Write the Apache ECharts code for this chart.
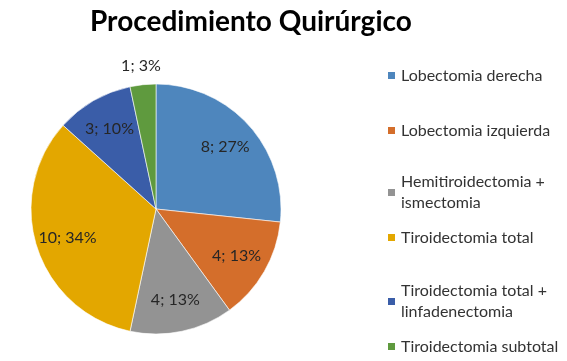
<!DOCTYPE html>
<html>
<head>
<meta charset="utf-8">
<script src="https://cdn.jsdelivr.net/npm/echarts@6/dist/echarts.min.js"></script>
<style>
  html, body { margin: 0; padding: 0; background: #fff; }
  #chart { width: 567px; height: 361px; }
</style>
</head>
<body>
<div id="chart"></div>
<script>
const categories = [
  'Lobectomia derecha',
  'Lobectomia izquierda',
  'Hemitiroidectomia + ismectomia',
  'Tiroidectomia total',
  'Tiroidectomia total + linfadenectomia',
  'Tiroidectomia subtotal',
]
const counts = [8, 4, 4, 10, 3, 1]
// percentages as printed on the original labels
const percentLabels = ['27%', '13%', '13%', '34%', '10%', '3%']
const legendLabels = [
  'Lobectomia derecha',
  'Lobectomia izquierda',
  'Hemitiroidectomia +\nismectomia',
  'Tiroidectomia total',
  'Tiroidectomia total +\nlinfadenectomia',
  'Tiroidectomia subtotal',
]

const colors = ['#4E86BD', '#D46E2B', '#939393', '#E3A700', '#3A5DA8', '#5F9A3E']
const font = 'Lato, "Open Sans", sans-serif'

const cx = 156
const cy = 209
const legendTops = [60, 115, 156, 222, 265, 331]

const chart = echarts.init(document.getElementById('chart'), null, { renderer: 'canvas' })

// one legend block per entry, the original spacing is uneven
const legends = categories.map((name, i) => {
  const twoLines = legendLabels[i].indexOf('\n') >= 0
  return {
    data: [name],
    left: 381,
    top: legendTops[i],
    orient: 'vertical',
    icon: 'rect',
    itemWidth: 9,
    itemHeight: 9,
    itemGap: 0,
    selectedMode: false,
    formatter: () => legendLabels[i],
    textStyle: {
      fontFamily: font,
      fontSize: 16,
      color: '#333',
      lineHeight: 21,
      padding: twoLines ? [21, 0, 0, 0] : 0,
    },
  }
})

chart.setOption({
  animation: false,
  color: colors,
  title: {
    text: 'Procedimiento Quirúrgico',
    left: 85,
    top: 3,
    textStyle: {
      fontFamily: font,
      fontSize: 28,
      fontWeight: 'bold',
      color: '#000',
    },
  },
  legend: legends,
  series: [
    {
      type: 'pie',
      center: [cx, cy],
      radius: 125,
      startAngle: 90,
      clockwise: true,
      avoidLabelOverlap: false,
      itemStyle: {
        borderColor: '#fff',
        borderWidth: 0.6,
      },
      label: {
        show: true,
        position: 'inside',
        fontFamily: font,
        fontSize: 16,
        color: '#262626',
        formatter: p => p.value + '; ' + percentLabels[p.dataIndex],
      },
      labelLine: { show: false },
      // push labels outward along the slice angle the library computed
      labelLayout: p => {
        const factor = p.dataIndex === 5 ? 2.2 : 1.42
        const lx = p.labelRect.x + p.labelRect.width / 2
        const ly = p.labelRect.y + p.labelRect.height / 2
        return {
          x: cx + (lx - cx) * factor,
          y: cy + (ly - cy) * factor,
          align: 'center',
          verticalAlign: 'middle',
        }
      },
      data: categories.map((name, i) => ({ name, value: counts[i] })),
    },
  ],
})
</script>
</body>
</html>
